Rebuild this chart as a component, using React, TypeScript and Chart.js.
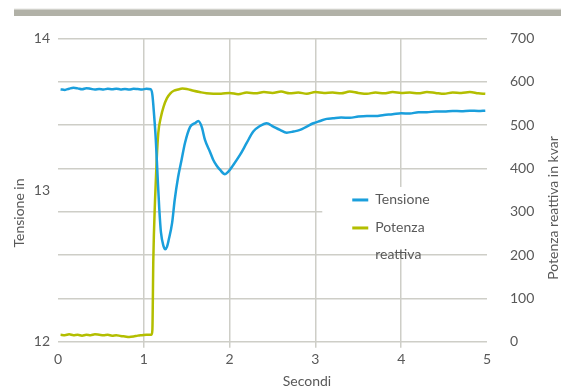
import React, { useEffect, useRef } from "react";
import { Chart, registerables } from "chart.js";

Chart.register(...registerables);

// ---- data ----
const secondiTensione = [
  0.03, 0.08, 0.13, 0.18, 0.23, 0.28, 0.33, 0.38, 0.43, 0.48, 0.53, 0.58, 0.63, 0.68, 0.73, 0.78,
  0.83, 0.88, 0.93, 0.98, 1.03, 1.08, 1.1, 1.12, 1.14, 1.16, 1.18, 1.2, 1.23, 1.25, 1.27, 1.29,
  1.33, 1.36, 1.4, 1.44, 1.48, 1.54, 1.6, 1.635, 1.675, 1.713, 1.772, 1.81, 1.85, 1.89, 1.946,
  1.985, 2.043, 2.121, 2.199, 2.276, 2.354, 2.432, 2.509, 2.587, 2.666, 2.742, 2.821, 2.899,
  2.976, 3.054, 3.132, 3.205, 3.3, 3.4, 3.5, 3.6, 3.7, 3.8, 3.9, 4.0, 4.1, 4.2, 4.3, 4.4, 4.5,
  4.6, 4.7, 4.8, 4.9, 4.98,
];
const tensione = [
  13.663, 13.66, 13.668, 13.674, 13.67, 13.664, 13.671, 13.667, 13.662, 13.666, 13.663, 13.667,
  13.664, 13.668, 13.663, 13.666, 13.662, 13.667, 13.665, 13.663, 13.667, 13.664, 13.627, 13.494,
  13.33, 13.1, 12.88, 12.72, 12.63, 12.609, 12.625, 12.67, 12.783, 12.934, 13.086, 13.198, 13.31,
  13.416, 13.442, 13.455, 13.416, 13.33, 13.251, 13.198, 13.16, 13.132, 13.104, 13.121, 13.165,
  13.231, 13.31, 13.385, 13.422, 13.44, 13.418, 13.396, 13.378, 13.385, 13.396, 13.418, 13.44,
  13.455, 13.469, 13.473, 13.478, 13.476, 13.484, 13.488, 13.487, 13.495, 13.499, 13.506, 13.504,
  13.513, 13.512, 13.518, 13.517, 13.521, 13.519, 13.523, 13.521, 13.523,
];

const secondiPotenza = [
  0.03, 0.08, 0.13, 0.18, 0.23, 0.28, 0.33, 0.38, 0.43, 0.48, 0.53, 0.58, 0.63, 0.68, 0.73, 0.78,
  0.83, 0.88, 0.93, 0.98, 1.03, 1.09, 1.1, 1.111, 1.131, 1.15, 1.169, 1.2, 1.23, 1.27, 1.31, 1.35,
  1.4, 1.45, 1.5, 1.58, 1.65, 1.73, 1.81, 1.9, 2.0, 2.1, 2.2, 2.3, 2.4, 2.5, 2.6, 2.7, 2.8, 2.9,
  3.0, 3.1, 3.2, 3.3, 3.4, 3.5, 3.6, 3.7, 3.8, 3.9, 4.0, 4.1, 4.2, 4.3, 4.4, 4.5, 4.6, 4.7, 4.8,
  4.9, 4.98,
];
const potenza = [
  16, 15, 17, 15, 16, 14, 16, 15, 17, 16, 15, 16, 14, 15, 13, 12, 11, 12, 14, 15, 16, 16, 27, 189,
  327, 419, 482, 519, 542, 562, 573, 579, 582, 584, 583, 579, 576, 573, 572, 572, 574, 571, 575,
  573, 576, 574, 577, 573, 575, 572, 576, 574, 575, 573, 577, 574, 572, 575, 573, 576, 574, 575,
  573, 576, 574, 572, 575, 574, 576, 573, 572,
];

const xTicks = [0, 1, 2, 3, 4, 5];
const tensioneTicks = [12, 13, 14];
const potenzaTicks = [0, 100, 200, 300, 400, 500, 600, 700];
const seriesNames = ["Tensione", "Potenza reattiva"];
const xTitle = "Secondi";
const yLeftTitle = "Tensione in";
const yRightTitle = "Potenza reattiva in kvar";

const BLUE = "#1a9fdc";
const GREEN = "#b3be00";
const GRID = "rgb(206,206,199)";
const TEXT = "#595959";
const FONT = "Lato, 'Open Sans', sans-serif";

export default function App() {
  const ref = useRef<HTMLCanvasElement | null>(null);

  useEffect(() => {
    if (!ref.current) return;

    const decor = {
      id: "decor",
      beforeDraw(chart: any) {
        const c = chart.ctx;
        c.save();
        c.fillStyle = "#e6e6e1";
        c.fillRect(14, 8.5, 547, 1);
        c.fillStyle = "#b1b1a7";
        c.fillRect(14, 9.5, 547, 6.5);
        c.restore();
      },
      beforeDatasetsDraw(chart: any) {
        const c = chart.ctx;
        const xs = chart.scales.x;
        const yr = chart.scales.yR;
        c.save();
        // legend box inside the plot
        const bx = xs.getPixelForValue(3.08);
        const by = yr.getPixelForValue(357);
        c.fillStyle = "#ffffff";
        c.fillRect(bx, by, chart.chartArea.right - bx + 1, 62);
        c.font = `14px ${FONT}`;
        c.textBaseline = "middle";
        c.fillStyle = TEXT;
        const colors = [BLUE, GREEN];
        const lx = bx + 30;
        const tx = bx + 53;
        let ly = by + 13;
        seriesNames.forEach((name, i) => {
          c.strokeStyle = colors[i];
          c.lineWidth = 3;
          c.beginPath();
          c.moveTo(lx, ly);
          c.lineTo(lx + 16, ly);
          c.stroke();
          const parts = name.split(" ");
          parts.forEach((p, j) => {
            c.fillText(p, tx, ly + j * 26.5);
          });
          ly += 28;
        });
        c.restore();
      },
      afterDraw(chart: any) {
        const c = chart.ctx;
        c.save();
        c.font = `14px ${FONT}`;
        c.fillStyle = TEXT;
        c.textAlign = "center";
        c.textBaseline = "middle";
        c.fillText(xTitle, 307, 381);
        c.translate(19, 213);
        c.rotate(-Math.PI / 2);
        c.fillText(yLeftTitle, 0, 0);
        c.restore();
        c.save();
        c.font = `14px ${FONT}`;
        c.fillStyle = TEXT;
        c.textAlign = "center";
        c.textBaseline = "middle";
        c.translate(553, 208);
        c.rotate(-Math.PI / 2);
        c.fillText(yRightTitle, 0, 0);
        c.restore();
      },
    };

    const chart = new Chart(ref.current, {
      type: "line",
      data: {
        datasets: [
          {
            label: seriesNames[0],
            data: secondiTensione.map((x, i) => ({ x, y: tensione[i] })),
            borderColor: BLUE,
            borderWidth: 2.5,
            pointRadius: 0,
            cubicInterpolationMode: "monotone",
            yAxisID: "yL",
          },
          {
            label: seriesNames[1],
            data: secondiPotenza.map((x, i) => ({ x, y: potenza[i] })),
            borderColor: GREEN,
            borderWidth: 2.5,
            pointRadius: 0,
            cubicInterpolationMode: "monotone",
            yAxisID: "yR",
          },
        ],
      },
      options: {
        animation: false,
        responsive: false,
        devicePixelRatio: 1,
        layout: { padding: { top: 38.3, left: 0, right: 0, bottom: 0 } },
        plugins: { legend: { display: false }, tooltip: { enabled: false }, title: { display: false } },
        scales: {
          x: {
            type: "linear",
            min: 0,
            max: 5,
            afterBuildTicks: (s: any) => {
              s.ticks = xTicks.map((v) => ({ value: v }));
            },
            afterFit: (s: any) => {
              s.height = 48.3;
            },
            ticks: { color: TEXT, font: { family: FONT, size: 14 }, padding: 3 },
            grid: {
              color: (ctx: any) =>
                ctx.tick && (ctx.tick.value === 0 || ctx.tick.value === 5) ? "rgba(0,0,0,0)" : GRID,
              lineWidth: 1.5,
              tickLength: 6,
            },
            border: { display: false },
          },
          yL: {
            type: "linear",
            position: "left",
            min: 12,
            max: 14,
            afterBuildTicks: (s: any) => {
              s.ticks = tensioneTicks.map((v) => ({ value: v }));
            },
            afterFit: (s: any) => {
              s.width = 58;
            },
            ticks: { color: TEXT, font: { family: FONT, size: 14 }, padding: 8 },
            grid: { display: false, drawTicks: false },
            border: { display: false },
          },
          yR: {
            type: "linear",
            position: "right",
            min: 0,
            max: 700,
            afterBuildTicks: (s: any) => {
              s.ticks = potenzaTicks.map((v) => ({ value: v }));
            },
            afterFit: (s: any) => {
              s.width = 74;
            },
            ticks: { color: TEXT, font: { family: FONT, size: 14 }, padding: 23 },
            grid: { color: GRID, lineWidth: 1.5, drawTicks: false },
            border: { display: false },
          },
        },
      },
      plugins: [decor],
    } as any);

    return () => chart.destroy();
  }, []);

  return (
    <div style={{ position: "absolute", left: 0, top: 0, width: 561, height: 390, background: "#fff" }}>
      <canvas ref={ref} width={561} height={390} style={{ display: "block", width: 561, height: 390 }} />
    </div>
  );
}
